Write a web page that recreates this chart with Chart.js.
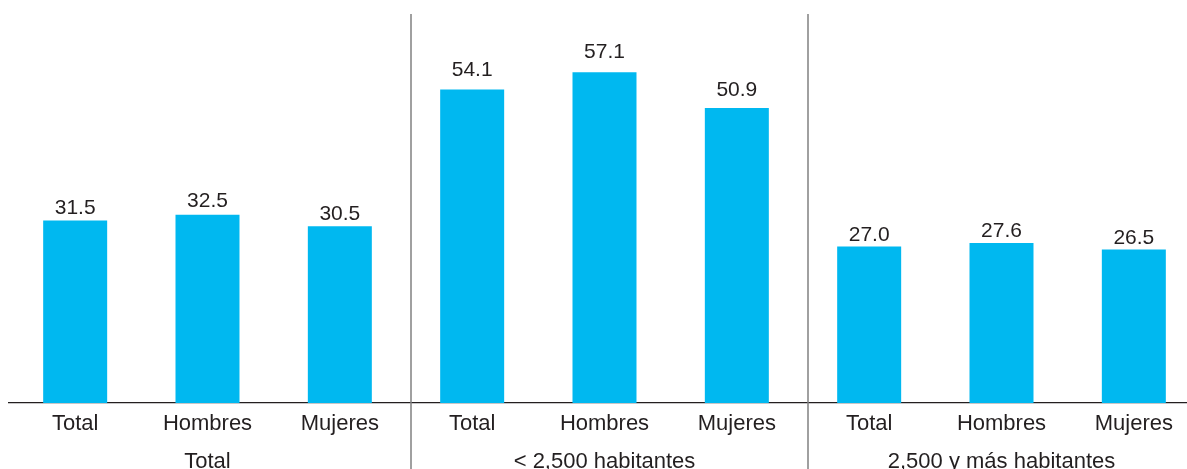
<!DOCTYPE html>
<html><head><meta charset="utf-8">
<script src="https://cdn.jsdelivr.net/npm/chart.js@4/dist/chart.umd.min.js"></script>
<style>
html,body{margin:0;padding:0;overflow:hidden;background:#fff;width:1187px;height:469px}
#wrap{position:relative;width:1200px;height:469px}
</style></head>
<body><div id="wrap"><canvas id="c"></canvas></div>
<script>
const categories = ['Total','Hombres','Mujeres','Total','Hombres','Mujeres','Total','Hombres','Mujeres'];
const groups = ['Total','< 2,500 habitantes','2,500 y más habitantes'];
const values = [31.5, 32.5, 30.5, 54.1, 57.1, 50.9, 27.0, 27.6, 26.5];

const FONT = '"Liberation Sans", Arial, Helvetica, sans-serif';
const TEXT = '#231f20';

const decor = {
  id: 'decor',
  afterDatasetsDraw(chart) {
    const {ctx, chartArea, scales: {x}} = chart;
    const meta = chart.getDatasetMeta(0);
    ctx.save();
    ctx.fillStyle = TEXT;
    ctx.textAlign = 'center';
    ctx.textBaseline = 'alphabetic';
    ctx.font = '21px ' + FONT;
    meta.data.forEach((bar, i) => {
      const h = bar.base - bar.y;
      ctx.fillText(values[i].toFixed(1), bar.x, bar.y - (0.047 * h - 1.6));
    });
    ctx.strokeStyle = '#808080';
    ctx.lineWidth = 1.5;
    for (let g = 1; g < groups.length; g++) {
      const i = g * 3;
      const xp = (x.getPixelForValue(i - 1) + x.getPixelForValue(i)) / 2 + 5;
      ctx.beginPath();
      ctx.moveTo(xp, chartArea.top + 5);
      ctx.lineTo(xp, chart.height);
      ctx.stroke();
    }
    ctx.font = '22px ' + FONT;
    groups.forEach((g, k) => {
      const xp = x.getPixelForValue(k * 3 + 1);
      ctx.fillText(g, xp, chart.height - 1);
    });
    ctx.restore();
  }
};

new Chart(document.getElementById('c'), {
  type: 'bar',
  data: {
    labels: categories,
    datasets: [{
      data: values,
      backgroundColor: '#00B8F0',
      barPercentage: 0.4836,
      categoryPercentage: 1
    }]
  },
  options: {
    responsive: true,
    maintainAspectRatio: false,
    animation: false,
    devicePixelRatio: 1,
    layout: {padding: {left: 9, right: 0, top: 9, bottom: 0}},
    plugins: {legend: {display: false}, tooltip: {enabled: false}},
    scales: {
      x: {
        grid: {display: false, drawTicks: false},
        border: {display: true, color: TEXT, width: 1.2},
        ticks: {color: TEXT, font: {family: FONT, size: 22}, padding: 8, maxRotation: 0, autoSkip: false},
        afterFit(s) { s.height = 66; }
      },
      y: {display: false, min: 0, max: 68}
    }
  },
  plugins: [decor]
});
</script>
</body></html>
